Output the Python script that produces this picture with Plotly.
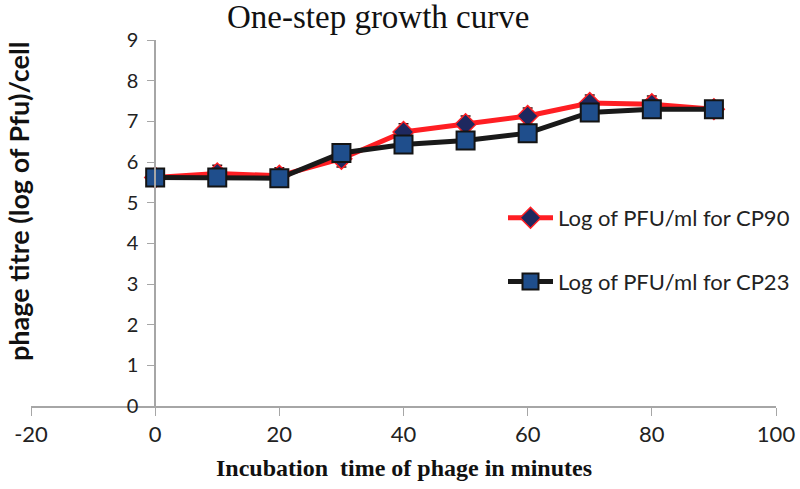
import plotly.graph_objects as go

minutes = [0, 10, 20, 30, 40, 50, 60, 70, 80, 90]
cp90 = [5.62, 5.72, 5.66, 6.08, 6.74, 6.93, 7.13, 7.45, 7.42, 7.3]
cp23 = [5.62, 5.62, 5.6, 6.22, 6.43, 6.53, 6.71, 7.22, 7.3, 7.3]
cp90_err = [0.2, 0.2, 0.2, 0.2, 0.2, 0.2, 0.2, 0.2, 0.2, 0.2]
cp23_err = [0.2, 0.2, 0.2, 0.2, 0.2, 0.2, 0.2, 0.2, 0.2, 0.2]
x_ticks = [-20, 0, 20, 40, 60, 80, 100]
y_ticks = [0, 1, 2, 3, 4, 5, 6, 7, 8, 9]

L, R, T, B = 31, 24, 40, 83
W, H = 800, 489
pw, ph = W - L - R, H - T - B

def px(p):
    return (p - L) / pw

def py(q):
    return (H - B - q) / ph

fig = go.Figure()
fig.add_trace(go.Scatter(
    x=minutes, y=cp90, mode="lines+markers", name="Log of PFU/ml for CP90",
    legendgroup="a",
    line=dict(color="rgb(255,30,35)", width=5),
    marker=dict(symbol="diamond", size=16, color="rgb(30,40,95)",
                line=dict(color="rgb(255,30,35)", width=1.5)),
    error_y=dict(type="data", array=cp90_err, visible=True,
                 color="rgb(60,20,20)", thickness=1.5, width=5),
))
fig.add_trace(go.Scatter(
    x=minutes, y=cp23, mode="lines+markers", name="Log of PFU/ml for CP23",
    legendgroup="b",
    line=dict(color="rgb(25,25,25)", width=5),
    marker=dict(symbol="square", size=18, color="rgb(31,78,140)",
                line=dict(color="rgb(20,20,20)", width=2)),
    error_y=dict(type="data", array=cp23_err, visible=True,
                 color="rgb(20,20,20)", thickness=1.5, width=5),
))

fig.update_layout(
    width=W, height=H,
    margin=dict(l=L, r=R, t=T, b=B, autoexpand=False),
    paper_bgcolor="white", plot_bgcolor="white",
    showlegend=True,
    legend=dict(x=px(503), y=py(197), xanchor="left", yanchor="top",
                font=dict(family="Lato, Open Sans, sans-serif", size=22, color="#222"),
                traceorder="grouped", tracegroupgap=32, itemwidth=45,
                bgcolor="rgba(0,0,0,0)", itemsizing="trace"),
    xaxis=dict(range=[-20, 100], tickvals=x_ticks, ticktext=[str(v) for v in x_ticks],
               showgrid=False, zeroline=False, showline=True, linecolor="#a6a6a6",
               linewidth=1.5, ticks="outside", ticklen=8, tickcolor="#a6a6a6",
               tickfont=dict(family="Lato, Open Sans, sans-serif", size=22, color="#222"),
               domain=[0, 1], automargin=False),
    yaxis=dict(range=[0, 9], tickvals=y_ticks, anchor="free", position=px(155),
               showgrid=False, zeroline=False, showline=True, linecolor="#a6a6a6",
               linewidth=1.5, ticks="outside", ticklen=7, tickcolor="#a6a6a6",
               ticklabelstandoff=5, automargin=False,
               tickfont=dict(family="Lato, Open Sans, sans-serif", size=20, color="#222")),
    annotations=[
        dict(text="One-step growth curve", x=px(378), y=py(17), xref="paper", yref="paper",
             xanchor="center", yanchor="middle",
             showarrow=False, font=dict(family="Liberation Serif, serif", size=33, color="#111")),
        dict(text="<b>Incubation  time of phage in minutes</b>", x=px(404), y=py(468),
             xref="paper", yref="paper", xanchor="center", yanchor="middle", showarrow=False,
             font=dict(family="Liberation Serif, serif", size=24, color="#111")),
        dict(text="<b>phage titre (log of Pfu)/cell</b>", x=px(18), y=py(202),
             xref="paper", yref="paper", xanchor="center", yanchor="middle",
             showarrow=False, textangle=-90,
             font=dict(family="Lato, Open Sans, sans-serif", size=27, color="#111")),
    ],
)

fig.write_html("out.html")
